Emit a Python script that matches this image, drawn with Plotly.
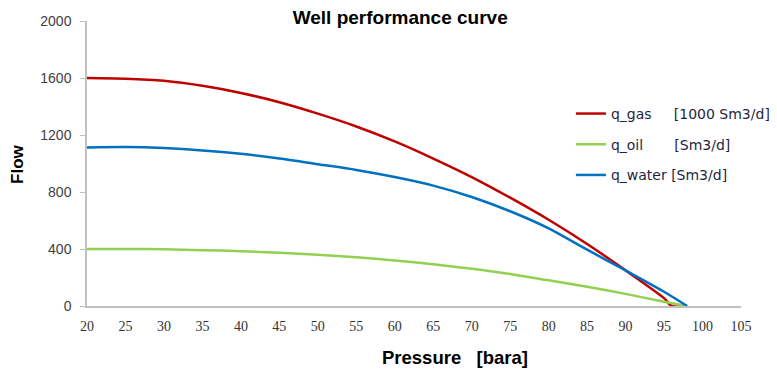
import plotly.graph_objects as go

pressure = [20, 25, 30, 35, 40, 45, 50, 55, 60, 65, 70, 75, 80, 85, 90, 95, 96, 98]
q_gas = [1600, 1595, 1580, 1545, 1495, 1430, 1350, 1260, 1155, 1035, 905, 760, 605, 435, 250, 55, 0, 0]

pressure_w = [20, 25, 30, 35, 40, 45, 50, 55, 60, 65, 70, 75, 80, 85, 90, 95, 98]
q_water = [1112, 1115, 1108, 1092, 1068, 1035, 995, 955, 905, 845, 765, 665, 545, 395, 250, 100, 0]
q_oil = [400, 400, 398, 392, 385, 374, 360, 342, 320, 293, 262, 225, 180, 135, 85, 30, 0]

nb = "\u00a0"
names = ["q_gas" + nb * 5 + "[1000 Sm3/d]",
         "q_oil" + nb * 7 + "[Sm3/d]",
         "q_water" + nb + "[Sm3/d]"]
colors = ["#c00000", "#92d050", "#0070c0"]

x_ticks = list(range(20, 110, 5))
y_ticks = [0, 400, 800, 1200, 1600, 2000]

fig = go.Figure()
fig.add_trace(go.Scatter(x=pressure, y=q_gas, mode="lines", name=names[0],
                         line=dict(color=colors[0], width=2.5, shape="spline", smoothing=0.8),
                         legendgroup="a"))
fig.add_trace(go.Scatter(x=pressure_w, y=q_oil, mode="lines", name=names[1],
                         line=dict(color=colors[1], width=2.5, shape="spline", smoothing=0.8),
                         legendgroup="b"))
fig.add_trace(go.Scatter(x=pressure_w, y=q_water, mode="lines", name=names[2],
                         line=dict(color=colors[2], width=2.5, shape="spline", smoothing=0.8),
                         legendgroup="c"))

fig.update_layout(
    width=769, height=370,
    margin=dict(l=79, r=36, t=13, b=72, autoexpand=False),
    paper_bgcolor="white", plot_bgcolor="white",
    title=dict(text="<b>Well performance curve</b>", x=0.51, xanchor="center",
               y=0.976, yanchor="middle",
               font=dict(family="Liberation Sans", size=19, color="#000000")),
    showlegend=True,
    legend=dict(x=0.732, xref="container", xanchor="left", y=0.730, yanchor="top",
                font=dict(family="DejaVu Sans", size=14, color="#1f1f3f"),
                tracegroupgap=9.5, traceorder="grouped", bgcolor="rgba(0,0,0,0)"),
    xaxis=dict(range=[20, 105], tickvals=x_ticks, showgrid=False, zeroline=False,
               showline=True, linecolor="#c0c0c0", linewidth=1.5, ticks="",
               ticklabelstandoff=6,
               tickfont=dict(family="Liberation Sans Narrow", size=14, color="#333333")),
    yaxis=dict(range=[0, 2000], tickvals=y_ticks, showgrid=False, zeroline=False,
               showline=True, linecolor="#c0c0c0", linewidth=1.5, ticks="outside", ticklen=5,
               tickcolor="#c0c0c0", ticklabelstandoff=6,
               tickfont=dict(family="Liberation Sans", size=14, color="#404040")),
    annotations=[
        dict(text="<b>Pressure" + nb * 3 + "[bara]</b>", xref="paper", yref="paper",
             x=0.562, y=-0.179, xanchor="center", yanchor="middle", showarrow=False,
             font=dict(family="Liberation Sans", size=18.5, color="#000000")),
        dict(text="<b>Flow</b>", xref="paper", yref="paper", textangle=-90,
             x=-0.1055, y=0.495, xanchor="center", yanchor="middle", showarrow=False,
             font=dict(family="Liberation Sans", size=17, color="#000000")),
    ],
)

fig.write_html("out.html")
